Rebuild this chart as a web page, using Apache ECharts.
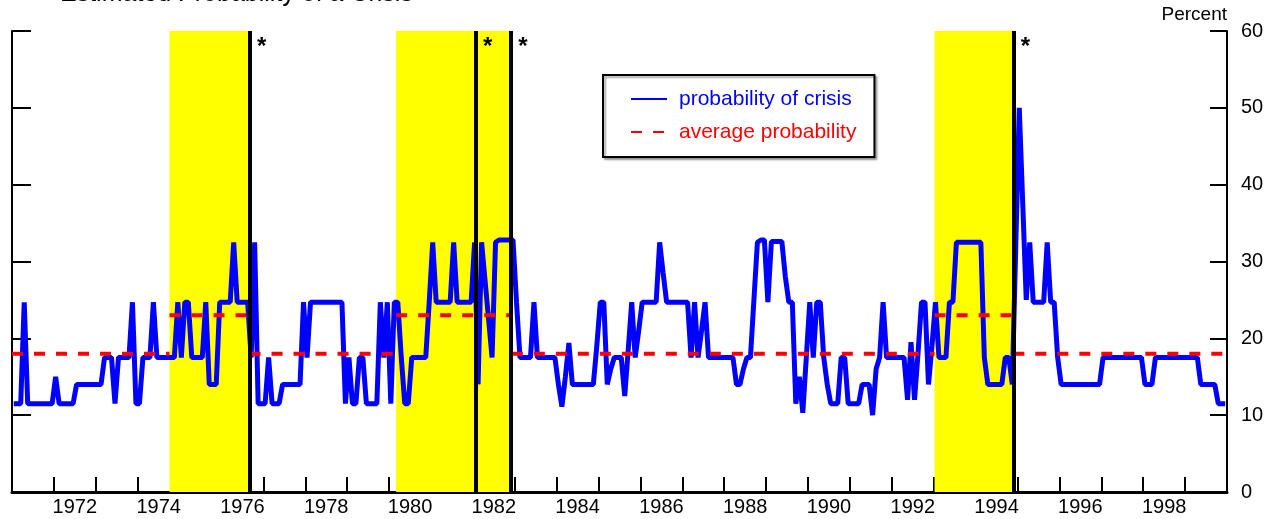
<!DOCTYPE html>
<html>
<head>
<meta charset="utf-8">
<script src="https://cdn.jsdelivr.net/npm/echarts@6/dist/echarts.min.js"></script>
<style>
  html, body { margin: 0; padding: 0; background: #fff; }
  #chart { width: 1275px; height: 519px; }
</style>
</head>
<body>
<div id="chart"></div>
<script>
// monthly estimated probability of a crisis, Jan 1971 .. Dec 1999 (percent)
var startYear = 1971;
var endYear = 2000;
var probability = [
  11.5, 11.5, 11.5, 24.7, 11.5, 11.5, 11.5, 11.5, 11.5, 11.5, 11.5, 11.5, // 1971
  15.0, 11.5, 11.5, 11.5, 11.5, 11.5, 14, 14, 14, 14, 14, 14,             // 1972
  14, 14, 17.5, 17.5, 17.5, 11.5, 17.5, 17.5, 17.5, 17.5, 24.7, 11.5,     // 1973
  11.5, 17.5, 17.5, 17.5, 24.7, 17.5, 17.5, 17.5, 17.5, 17.5, 17.5, 24.7, // 1974
  17.5, 24.7, 24.7, 17.5, 17.5, 17.5, 17.5, 24.7, 14, 14, 14, 24.7,       // 1975
  24.7, 24.7, 24.7, 32.5, 24.7, 24.7, 24.7, 24.7, 17.5, 32.5, 11.5, 11.5, // 1976
  11.5, 17.5, 11.5, 11.5, 11.5, 14, 14, 14, 14, 14, 14, 24.7,             // 1977
  17.5, 24.7, 24.7, 24.7, 24.7, 24.7, 24.7, 24.7, 24.7, 24.7, 24.7, 11.5, // 1978
  17.5, 11.5, 11.5, 17.5, 17.5, 11.5, 11.5, 11.5, 11.5, 24.7, 17.5, 24.7, // 1979
  11.5, 24.7, 24.7, 17.5, 11.5, 11.5, 17.5, 17.5, 17.5, 17.5, 17.5, 24.7, // 1980
  32.5, 24.7, 24.7, 24.7, 24.7, 24.7, 32.5, 24.7, 24.7, 24.7, 24.7, 24.7, // 1981
  32.5, 14, 32.5, 27.5, 22.5, 17.5, 32.5, 32.8, 32.8, 32.8, 32.8, 32.8,   // 1982
  24.7, 17.5, 17.5, 17.5, 17.5, 24.7, 17.5, 17.5, 17.5, 17.5, 17.5, 17.5, // 1983
  14, 11.1, 15, 19.4, 14, 14, 14, 14, 14, 14, 14, 19,                     // 1984
  24.7, 24.7, 14, 16, 17.5, 17.5, 17.5, 12.5, 18.5, 24.7, 17.5, 21,       // 1985
  24.7, 24.7, 24.7, 24.7, 24.7, 32.5, 28.5, 24.7, 24.7, 24.7, 24.7, 24.7, // 1986
  24.7, 24.7, 17.5, 24.7, 17.5, 21, 24.7, 17.5, 17.5, 17.5, 17.5, 17.5,   // 1987
  17.5, 17.5, 17.5, 14, 14, 16, 17.5, 17.5, 25, 32.5, 32.8, 32.8,         // 1988
  24.7, 32.6, 32.6, 32.6, 32.6, 28, 24.7, 24.7, 11.5, 15, 10.3, 17.5,     // 1989
  24.7, 17.5, 24.7, 24.7, 17.5, 14, 11.5, 11.5, 11.5, 17.5, 17.5, 11.5,   // 1990
  11.5, 11.5, 11.5, 14, 14, 14, 10.0, 16, 17.5, 24.7, 17.5, 17.5,         // 1991
  17.5, 17.5, 17.5, 17.5, 12, 19.5, 12, 18, 24.7, 24.7, 14, 19,           // 1992
  24.7, 17.5, 17.5, 17.5, 24.7, 24.7, 32.5, 32.5, 32.5, 32.5, 32.5, 32.5, // 1993
  32.5, 32.5, 17.5, 14, 14, 14, 14, 14, 17.5, 17.5, 14, 32,               // 1994
  50, 37.5, 25, 32.5, 24.7, 24.7, 24.7, 24.7, 32.5, 24.7, 24.7, 17.5,     // 1995
  14, 14, 14, 14, 14, 14, 14, 14, 14, 14, 14, 14,                         // 1996
  17.5, 17.5, 17.5, 17.5, 17.5, 17.5, 17.5, 17.5, 17.5, 17.5, 17.5, 17.5, // 1997
  14, 14, 14, 17.5, 17.5, 17.5, 17.5, 17.5, 17.5, 17.5, 17.5, 17.5,       // 1998
  17.5, 17.5, 17.5, 17.5, 14, 14, 14, 14, 14, 11.5, 11.5, 11.5            // 1999
];

// crisis dates (vertical lines) and the 24-month windows before them
var crisisDates = [1976.67, 1982.07, 1982.91, 1994.90];
var warningWindows = [[1974.76, 1976.67], [1980.17, 1982.93], [1993.02, 1994.90]];
var avgOutside = 18;
var avgInside = 23;

var yMin = 0, yMax = 60, yStep = 10;
var firstLabelYear = 1972, labelStep = 2;

var probData = probability.map(function (v, i) {
  return [startYear + (i + 0.5) / 12, v];
});

var avgData = [];
var prev = startYear;
warningWindows.forEach(function (w) {
  avgData.push([prev, avgOutside], [w[0], avgOutside], [w[0], null]);
  avgData.push([w[0], avgInside], [w[1], avgInside], [w[1], null]);
  prev = w[1];
});
avgData.push([prev, avgOutside], [endYear, avgOutside]);

var font = 'Liberation Sans, Arial, sans-serif';
var chart = echarts.init(document.getElementById('chart'));

chart.setOption({
  animation: false,
  textStyle: { fontFamily: font },
  title: {
    text: 'Estimated Probability of a Crisis',
    left: 60,
    top: -18,
    padding: 0,
    textStyle: { fontSize: 25, fontWeight: 'normal', color: '#000', fontFamily: font }
  },
  grid: { left: 12, right: 48, top: 31, bottom: 27 },
  legend: {
    orient: 'vertical',
    left: 603,
    top: 75,
    padding: [13, 18, 14, 27],
    itemWidth: 36,
    itemHeight: 14,
    itemGap: 11,
    backgroundColor: '#fff',
    borderColor: '#000',
    borderWidth: 2,
    borderRadius: 0,
    shadowColor: 'rgba(0,0,0,0.35)',
    shadowBlur: 2,
    shadowOffsetX: 2,
    shadowOffsetY: 2,
    itemStyle: { color: 'transparent', borderWidth: 0, opacity: 0 },
    textStyle: { fontSize: 21, lineHeight: 22, padding: [0, 0, 0, 7], fontFamily: font },
    data: [
      { name: 'probability of crisis', textStyle: { color: '#0000ff' } },
      { name: 'average probability', textStyle: { color: '#ff0000' } }
    ]
  },
  xAxis: [
    {
      type: 'value',
      min: startYear,
      max: endYear,
      interval: 1,
      position: 'bottom',
      axisLine: { lineStyle: { color: '#000', width: 3 } },
      axisTick: { inside: true, length: 15, lineStyle: { color: '#000', width: 2 } },
      axisLabel: { show: false },
      splitLine: { show: false }
    },
    {
      // half-year scale used only to centre the year labels on each year
      type: 'value',
      min: 0,
      max: (endYear - startYear) * 2,
      interval: 1,
      position: 'bottom',
      axisLine: { show: false },
      axisTick: { show: false },
      splitLine: { show: false },
      axisLabel: {
        margin: 5,
        fontSize: 20,
        color: '#000',
        formatter: function (v) {
          var year = startYear + (v - 1) / 2;
          if (v % 2 === 1 && (year - firstLabelYear) % labelStep === 0) return String(year);
          return '';
        }
      }
    }
  ],
  yAxis: [
    {
      type: 'value',
      min: yMin, max: yMax, interval: yStep,
      position: 'left',
      axisLine: { show: true, lineStyle: { color: '#000', width: 2 } },
      axisTick: { show: true, inside: true, length: 19, lineStyle: { color: '#000', width: 2 } },
      axisLabel: { show: false },
      splitLine: { show: false }
    },
    {
      type: 'value',
      min: yMin, max: yMax, interval: yStep,
      position: 'right',
      name: 'Percent',
      nameLocation: 'end',
      nameGap: 7,
      nameTextStyle: { align: 'right', verticalAlign: 'bottom', fontSize: 19, color: '#000' },
      axisLine: { show: true, lineStyle: { color: '#000', width: 2 } },
      axisTick: { show: true, inside: true, length: 17, lineStyle: { color: '#000', width: 2 } },
      axisLabel: { margin: 14, fontSize: 20, color: '#000' },
      splitLine: { show: false }
    }
  ],
  series: [
    {
      name: 'probability of crisis',
      type: 'line',
      data: probData,
      symbol: 'none',
      lineStyle: { color: '#0000ff', width: 5 },
      itemStyle: { color: '#0000ff' },
      z: 3,
      markArea: {
        silent: true,
        itemStyle: { color: '#ffff00', opacity: 1 },
        data: warningWindows.map(function (w) {
          return [{ xAxis: w[0] }, { xAxis: w[1] }];
        })
      }
    },
    {
      name: 'average probability',
      type: 'line',
      data: avgData,
      symbol: 'none',
      connectNulls: false,
      lineStyle: { color: '#ff0000', width: 4, type: [11, 11] },
      itemStyle: { color: '#ff0000' },
      z: 4
    },
    {
      name: 'crisis',
      type: 'line',
      data: [],
      z: 5,
      markLine: {
        silent: true,
        symbol: 'none',
        label: { show: false },
        lineStyle: { color: '#000', width: 4, type: 'solid' },
        data: crisisDates.map(function (d) { return { xAxis: d }; })
      },
      markPoint: {
        silent: true,
        symbol: 'circle',
        symbolSize: 0,
        label: {
          show: true,
          position: 'inside',
          formatter: '*',
          offset: [12, 0],
          fontSize: 24,
          fontWeight: 'bold',
          color: '#000'
        },
        data: crisisDates.map(function (d) { return { coord: [d, 57.9] }; })
      }
    }
  ]
});
</script>
</body>
</html>
